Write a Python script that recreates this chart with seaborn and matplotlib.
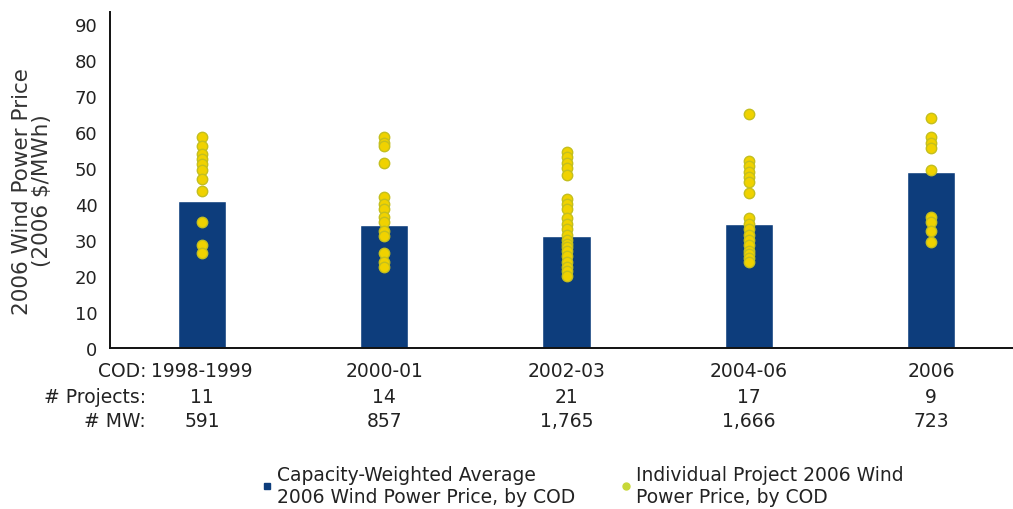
import matplotlib
matplotlib.use("Agg")
import matplotlib.pyplot as plt
import matplotlib.transforms as mtransforms
from matplotlib.lines import Line2D
import seaborn as sns
import pandas as pd

# ---- data ----
periods = ["1998-1999", "2000-01", "2002-03", "2004-06", "2006"]
avg_price = [40.8, 34.2, 31.0, 34.4, 48.9]
n_projects = ["11", "14", "21", "17", "9"]
n_mw = ["591", "857", "1,765", "1,666", "723"]

prices_9899 = [58.5, 56, 54, 52.5, 51, 49.5, 47, 43.5, 35, 28.5, 26.5]
prices_0001 = [58.5, 57, 56, 51.5, 42, 40, 38.5, 36.5, 35, 32.5, 31, 26.5, 24, 22.5]
prices_0203 = [54.5, 53, 51.5, 50, 48, 41.5, 40, 38.5, 36, 34.5, 33, 31.5, 30, 29,
               28, 27, 25.5, 24, 22.5, 21.5, 20]
prices_0406 = [65, 52, 50.5, 49, 47.5, 46, 43, 36, 34.5, 33, 31.5, 30, 28.5, 27,
               26, 25, 24]
prices_2006 = [64, 58.5, 57, 55.5, 49.5, 36.5, 35, 32.5, 29.5]

yticks = [0, 10, 20, 30, 40, 50, 60, 70, 80, 90]

bar_label = "Capacity-Weighted Average\n2006 Wind Power Price, by COD"
pt_label = "Individual Project 2006 Wind\nPower Price, by COD"

# ---- tables ----
df_avg = pd.DataFrame({"period": periods, "price": avg_price})
proj_lists = [prices_9899, prices_0001, prices_0203, prices_0406, prices_2006]
df_pts = pd.DataFrame({
    "period": [p for p, lst in zip(periods, proj_lists) for _ in lst],
    "price": [v for lst in proj_lists for v in lst],
})

sns.set_theme(style="white")
plt.rcParams["font.family"] = ["DejaVu Sans"]

txt_color = "#222222"
bar_color = "#0D3D7C"
pt_face = "#F0D200"
pt_edge = "#C4BF1E"

fig = plt.figure(figsize=(10.13, 5.10), dpi=100)
ax = fig.add_axes([110 / 1013, 161 / 510, 903 / 1013, 336 / 510])

sns.barplot(data=df_avg, x="period", y="price", order=periods, color=bar_color,
            width=0.265, saturation=1, ax=ax, errorbar=None)
sns.stripplot(data=df_pts, x="period", y="price", order=periods, jitter=False,
              color=pt_face, edgecolor=pt_edge, linewidth=1.0, size=7.5, ax=ax,
              zorder=3)

ax.set_xlim(-0.505, 4.45)
ax.set_ylim(0, 93.3)
ax.set_yticks(yticks)
ax.set_yticklabels([str(t) for t in yticks], fontsize=13, color=txt_color)
ax.tick_params(axis="y", length=0, pad=9)
ax.set_xticks([])
ax.set_xlabel("")
ax.set_ylabel("2006 Wind Power Price\n(2006 $/MWh)", fontsize=15.5, color="#333333",
              linespacing=1.0)
ax.yaxis.set_label_coords(-0.064, 0.47)
for s in ["top", "right"]:
    ax.spines[s].set_visible(False)
for s in ["left", "bottom"]:
    ax.spines[s].set_color("#111111")
    ax.spines[s].set_linewidth(1.4)

# bottom table rows
trans = mtransforms.blended_transform_factory(ax.transData, ax.transAxes)
rows = [("COD:", periods, -0.068), ("# Projects:", n_projects, -0.143),
        ("# MW:", n_mw, -0.217)]
for lab, vals, yy in rows:
    ax.text(0.040, yy, lab, transform=ax.transAxes, ha="right", va="center",
            fontsize=13.5, color=txt_color)
    for i, v in enumerate(vals):
        ax.text(i, yy, v, transform=trans, ha="center", va="center",
                fontsize=13.5, color=txt_color)

handles = [
    Line2D([], [], marker="s", linestyle="none", markersize=5,
           markerfacecolor=bar_color, markeredgecolor=bar_color),
    Line2D([], [], marker="o", linestyle="none", markersize=5,
           markerfacecolor="#C8D838", markeredgecolor="#C8D838"),
]
fig.legend(handles, [bar_label, pt_label], loc="center",
           bbox_to_anchor=(0.575, 0.047), ncol=2, frameon=False, fontsize=13.5,
           handlelength=0.6, handletextpad=0.25, columnspacing=2.4,
           labelspacing=0.2, labelcolor=txt_color)

fig.savefig("out.png", dpi=100)
